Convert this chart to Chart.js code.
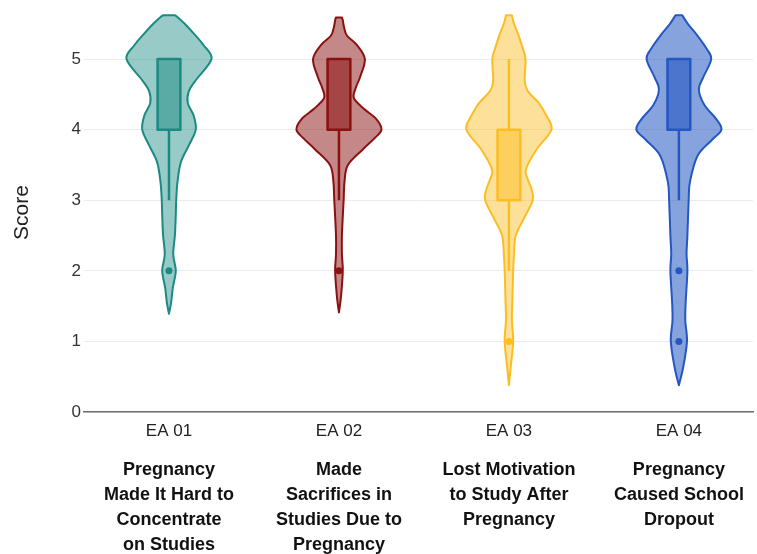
<!DOCTYPE html>
<html>
<head>
<meta charset="utf-8">
<script src="https://cdn.jsdelivr.net/npm/chart.js@4.4.1/dist/chart.umd.min.js"></script>
<style>
  html, body { margin: 0; padding: 0; background: #fff; }
  #wrap { width: 757px; height: 554px; }
</style>
</head>
<body>
<div id="wrap"><canvas id="graficoViolino"></canvas></div>
<script>
const categories = ['EA 01', 'EA 02', 'EA 03', 'EA 04'];
const descriptions = [
  ['Pregnancy', 'Made It Hard to', 'Concentrate', 'on Studies'],
  ['Made', 'Sacrifices in', 'Studies Due to', 'Pregnancy'],
  ['Lost Motivation', 'to Study After', 'Pregnancy'],
  ['Pregnancy', 'Caused School', 'Dropout']
];
const yMax = 5.65;

// violin outlines: score levels and relative density (1 = widest part)
const ea01Scores  = [1.39, 1.55, 1.76, 2.0, 2.23, 2.51, 2.8, 3.0, 3.26, 3.54, 3.78, 4.0, 4.2, 4.38, 4.55, 4.7, 5.0, 5.2, 5.35, 5.5, 5.6, 5.62];
const ea01Density = [0, 0.05, 0.09, 0.16, 0.10, 0.14, 0.16, 0.17, 0.20, 0.28, 0.47, 0.63, 0.58, 0.44, 0.47, 0.63, 1.0, 0.81, 0.60, 0.37, 0.19, 0.14];

const ea02Scores  = [1.41, 1.65, 2.0, 2.23, 2.51, 3.0, 3.26, 3.5, 3.72, 3.88, 4.0, 4.15, 4.3, 4.45, 4.6, 4.75, 5.0, 5.2, 5.33, 5.45, 5.55, 5.59];
const ea02Density = [0, 0.05, 0.09, 0.07, 0.07, 0.11, 0.13, 0.21, 0.56, 0.84, 1.0, 0.88, 0.58, 0.35, 0.40, 0.50, 0.61, 0.42, 0.19, 0.12, 0.09, 0.07];

const ea03Scores  = [0.38, 0.63, 1.0, 1.3, 1.56, 2.0, 2.24, 2.5, 2.74, 3.0, 3.16, 3.3, 3.44, 3.72, 4.0, 4.2, 4.38, 4.55, 4.7, 5.0, 5.2, 5.33, 5.5, 5.62];
const ea03Density = [0, 0.04, 0.10, 0.07, 0.08, 0.10, 0.12, 0.16, 0.35, 0.56, 0.53, 0.44, 0.40, 0.65, 1.0, 0.88, 0.70, 0.44, 0.37, 0.39, 0.30, 0.23, 0.12, 0.07];

const ea04Scores  = [0.38, 0.63, 1.0, 1.3, 1.56, 2.0, 2.24, 2.5, 3.0, 3.26, 3.63, 3.85, 4.0, 4.15, 4.35, 4.57, 4.75, 5.0, 5.15, 5.33, 5.5, 5.62];
const ea04Density = [0, 0.10, 0.19, 0.15, 0.16, 0.20, 0.18, 0.20, 0.23, 0.26, 0.44, 0.77, 1.0, 0.88, 0.60, 0.47, 0.58, 0.76, 0.65, 0.44, 0.21, 0.08];

const violinScores = [ea01Scores, ea02Scores, ea03Scores, ea04Scores];
const violinDensity = [ea01Density, ea02Density, ea03Density, ea04Density];

// box plot summary per item
const q1 = [4, 4, 3, 4];
const q3 = [5, 5, 4, 5];
const whiskerLow = [3, 3, 2, 3];
const whiskerHigh = [5, 5, 5, 5];
const outliers = [[2], [2], [1], [2, 1]];

const strokeColors = ['#1b8a83', '#8b1111', '#fbbd22', '#2457c2'];
const violinFills = ['rgba(27,138,131,0.45)', 'rgba(139,17,17,0.5)', 'rgba(251,189,34,0.45)', 'rgba(36,87,194,0.55)'];
const boxFills = ['rgba(27,138,131,0.5)', 'rgba(139,17,17,0.55)', 'rgba(251,189,34,0.5)', 'rgba(36,87,194,0.6)'];

// catmull-rom through the outline points
function traceCurve(ctx, pts) {
  for (let k = 0; k < pts.length - 1; k++) {
    const p0 = pts[k - 1] || pts[k], p1 = pts[k], p2 = pts[k + 1], p3 = pts[k + 2] || p2;
    ctx.bezierCurveTo(
      p1.x + (p2.x - p0.x) / 6, p1.y + (p2.y - p0.y) / 6,
      p2.x - (p3.x - p1.x) / 6, p2.y - (p3.y - p1.y) / 6,
      p2.x, p2.y);
  }
}

const violinPlugin = {
  id: 'violinos',
  beforeDatasetsDraw(chart) {
    const ctx = chart.ctx;
    const x = chart.scales.x, y = chart.scales.y;
    const unit = x.getPixelForValue(1) - x.getPixelForValue(0);
    const maxW = unit * 0.25;
    const boxW = unit * 0.067;

    categories.forEach(function(cat, i) {
      const cx = x.getPixelForValue(i);
      const right = violinScores[i].map(function(s, k) {
        return { x: cx + violinDensity[i][k] * maxW, y: y.getPixelForValue(s) };
      });
      const left = right.map(function(p) { return { x: 2 * cx - p.x, y: p.y }; }).reverse();

      ctx.save();
      ctx.beginPath();
      ctx.moveTo(right[0].x, right[0].y);
      traceCurve(ctx, right);
      ctx.lineTo(left[0].x, left[0].y);
      traceCurve(ctx, left);
      ctx.closePath();
      ctx.fillStyle = violinFills[i];
      ctx.fill();
      ctx.lineWidth = 2;
      ctx.lineJoin = 'round';
      ctx.strokeStyle = strokeColors[i];
      ctx.stroke();

      // whiskers
      const top = y.getPixelForValue(q3[i]);
      const bot = y.getPixelForValue(q1[i]);
      ctx.lineWidth = 2.5;
      ctx.beginPath();
      ctx.moveTo(cx, bot);
      ctx.lineTo(cx, y.getPixelForValue(whiskerLow[i]));
      ctx.moveTo(cx, top);
      ctx.lineTo(cx, y.getPixelForValue(whiskerHigh[i]));
      ctx.stroke();

      // box
      ctx.fillStyle = boxFills[i];
      ctx.fillRect(cx - boxW, top, 2 * boxW, bot - top);
      ctx.strokeRect(cx - boxW, top, 2 * boxW, bot - top);
      ctx.restore();
    });
  }
};

const outlierPoints = [];
const outlierColors = [];
outliers.forEach(function(list, i) {
  list.forEach(function(v) {
    outlierPoints.push({ x: i, y: v });
    outlierColors.push(strokeColors[i]);
  });
});

const categoryTicks = function(scale) {
  scale.ticks = categories.map(function(c, i) { return { value: i }; });
};

// bottom axes keep a fixed height and don't pad the sides for wide labels
const fixedHeight = function(h) {
  return function(scale) {
    scale.height = h;
    scale.paddingLeft = 0;
    scale.paddingRight = 0;
  };
};

const ctx = document.getElementById('graficoViolino').getContext('2d');
new Chart(ctx, {
  type: 'scatter',
  data: {
    datasets: [{
      label: 'Outliers',
      data: outlierPoints,
      pointBackgroundColor: outlierColors,
      pointBorderWidth: 0,
      pointRadius: 3.5
    }]
  },
  options: {
    responsive: true,
    maintainAspectRatio: false,
    animation: false,
    layout: { padding: { top: 10, right: 0, left: 0, bottom: 0 } },
    plugins: { legend: { display: false }, tooltip: { enabled: false } },
    scales: {
      x: {
        type: 'linear',
        position: 'bottom',
        weight: 0,
        min: -0.5,
        max: 3.436,
        afterBuildTicks: categoryTicks,
        afterFit: fixedHeight(30),
        grid: { display: false, drawTicks: false },
        border: { display: true, color: '#707070', width: 1.5 },
        ticks: {
          padding: 9,
          color: '#222',
          font: { family: 'Liberation Sans, Arial, sans-serif', size: 17 },
          autoSkip: false,
          maxRotation: 0,
          callback: function(v) { return categories[v]; }
        }
      },
      x2: {
        type: 'linear',
        position: 'bottom',
        weight: 1,
        min: -0.5,
        max: 3.436,
        afterBuildTicks: categoryTicks,
        afterFit: fixedHeight(112),
        grid: { display: false, drawTicks: false },
        border: { display: false },
        ticks: {
          padding: 16,
          color: '#111',
          font: { family: 'Liberation Sans, Arial, sans-serif', size: 18, weight: 'bold', lineHeight: 1.38 },
          autoSkip: false,
          maxRotation: 0,
          callback: function(v) { return descriptions[v]; }
        }
      },
      y: {
        min: 0,
        max: yMax,
        afterBuildTicks: function(scale) {
          scale.ticks = scale.ticks.filter(function(t) { return Number.isInteger(t.value); });
        },
        afterFit: function(scale) { scale.width = 84; },
        grid: { color: '#ebebeb', lineWidth: 1, drawTicks: false },
        border: { display: false },
        ticks: {
          stepSize: 1,
          padding: 3,
          color: '#333',
          font: { family: 'Liberation Sans, Arial, sans-serif', size: 17 }
        },
        title: {
          display: true,
          text: 'Score',
          color: '#222',
          padding: { top: 10, bottom: 0 },
          font: { family: 'Liberation Sans, Arial, sans-serif', size: 21 }
        }
      }
    }
  },
  plugins: [violinPlugin]
});
</script>
</body>
</html>
